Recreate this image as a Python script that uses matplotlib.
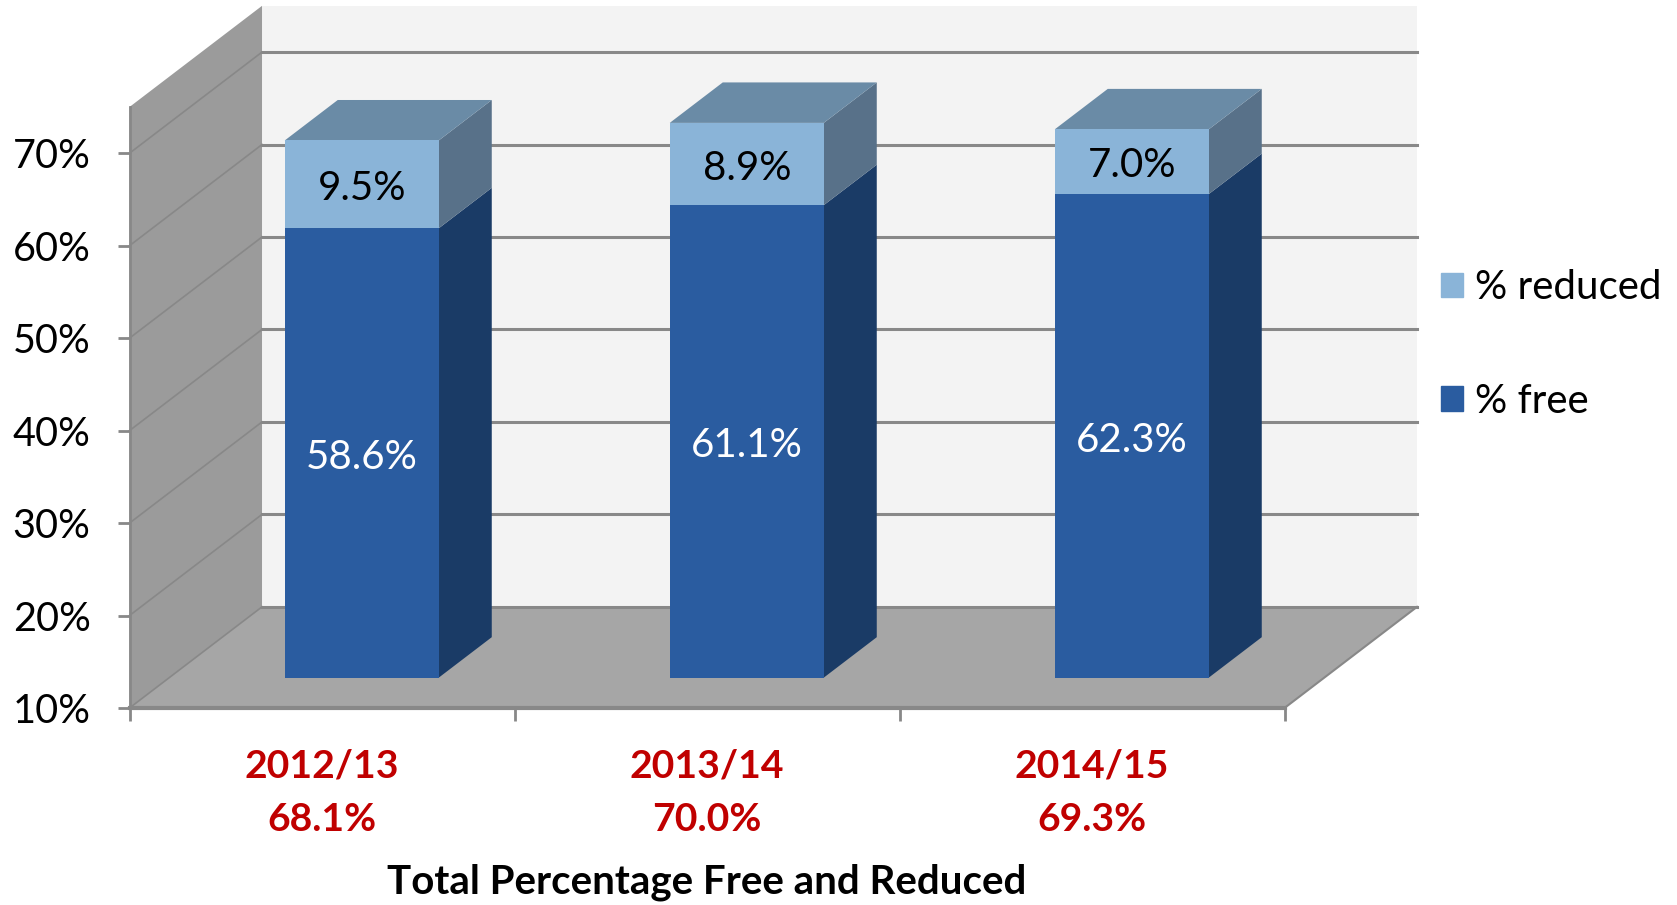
import matplotlib
matplotlib.use('Agg')
import matplotlib.pyplot as plt
from matplotlib.patches import Patch

plt.rcParams['font.family'] = ['Lato', 'DejaVu Sans']

years = ['2012/13', '2013/14', '2014/15']
totals = ['68.1%', '70.0%', '69.3%']
pct_free = [58.6, 61.1, 62.3]
pct_reduced = [9.5, 8.9, 7.0]
y_ticks = [10, 20, 30, 40, 50, 60, 70]

Y_MIN = 10
Y_MAX = 75

# depth vector of the fake 3d box, in data units
DEPTH_X = 0.3442
DEPTH_Y = 10.94
BAR_W = 0.40
BAR_FRONT = 0.30
BAR_BACK = 0.70
LABEL_SHIFT = 0.45

WALL = '#f3f3f3'
SIDE_WALL = '#9b9b9b'
FLOOR = '#a6a6a6'
GRID = '#888888'


def project(x, y, d):
    return x + d * DEPTH_X, y + d * DEPTH_Y


def face(ax, corners, color, z):
    pts = [project(*c) for c in corners]
    ax.fill([p[0] for p in pts], [p[1] for p in pts], color=color, lw=0, zorder=z, clip_on=False)


def draw_segment(ax, x0, x1, y0, y1, front, side, top, z):
    face(ax, [(x1, y0, BAR_FRONT), (x1, y0, BAR_BACK), (x1, y1, BAR_BACK), (x1, y1, BAR_FRONT)], side, z)
    face(ax, [(x0, y0, BAR_FRONT), (x1, y0, BAR_FRONT), (x1, y1, BAR_FRONT), (x0, y1, BAR_FRONT)], front, z + 0.1)
    if top is not None:
        face(ax, [(x0, y1, BAR_FRONT), (x1, y1, BAR_FRONT), (x1, y1, BAR_BACK), (x0, y1, BAR_BACK)], top, z)


fig = plt.figure(figsize=(16.77, 9.05), dpi=100)
ax = fig.add_axes([129.5 / 1677, 1 - 708 / 905, 1155 / 1677, 601 / 905])
ax.patch.set_visible(False)
n = len(years)
ax.set_xlim(0, n)
ax.set_ylim(Y_MIN, Y_MAX)

# walls and floor
face(ax, [(0, Y_MIN, 1), (n, Y_MIN, 1), (n, Y_MAX, 1), (0, Y_MAX, 1)], WALL, 1)
face(ax, [(0, Y_MIN, 0), (0, Y_MIN, 1), (0, Y_MAX, 1), (0, Y_MAX, 0)], SIDE_WALL, 1)
face(ax, [(0, Y_MIN, 0), (n, Y_MIN, 0), (n, Y_MIN, 1), (0, Y_MIN, 1)], FLOOR, 1)

for t in y_ticks:
    p0 = project(0, t, 0)
    p1 = project(0, t, 1)
    p2 = project(n, t, 1)
    ax.plot([p0[0], p1[0]], [p0[1], p1[1]], color=GRID, lw=1.2, zorder=2, clip_on=False)
    ax.plot([p1[0], p2[0]], [p1[1], p2[1]], color=GRID, lw=2.2, zorder=2, clip_on=False)
p0 = project(n, Y_MIN, 0)
p1 = project(n, Y_MIN, 1)
ax.plot([p0[0], p1[0]], [p0[1], p1[1]], color=GRID, lw=1.5, zorder=2, clip_on=False)

# bars
for i in range(n):
    x0 = i + 0.5 - BAR_W / 2
    x1 = i + 0.5 + BAR_W / 2
    free_top = pct_free[i]
    total_top = free_top + pct_reduced[i]
    draw_segment(ax, x0, x1, Y_MIN, free_top, '#2a5ca0', '#1a3b66', None, 3)
    draw_segment(ax, x0, x1, free_top, total_top, '#8ab4d8', '#587189', '#6a8ba6', 3)
    lx, ly = project(i + 0.5, (Y_MIN + free_top) / 2 - LABEL_SHIFT, BAR_FRONT)
    ax.text(lx, ly, f'{pct_free[i]:.1f}%', color='white', fontsize=29, ha='center', va='center', zorder=5)
    lx, ly = project(i + 0.5, (free_top + total_top) / 2 - LABEL_SHIFT, BAR_FRONT)
    ax.text(lx, ly, f'{pct_reduced[i]:.1f}%', color='black', fontsize=29, ha='center', va='center', zorder=5)

# axes
ax.spines['top'].set_visible(False)
ax.spines['right'].set_visible(False)
ax.spines['left'].set_color(GRID)
ax.spines['left'].set_linewidth(2)
ax.spines['bottom'].set_color(GRID)
ax.spines['bottom'].set_linewidth(3)

ax.set_yticks(y_ticks)
ax.set_yticklabels([f'{t}%' for t in y_ticks])
ax.tick_params(axis='y', length=9, width=2, color=GRID, labelsize=28.5, pad=19)

ax.set_xticks(range(n + 1))
ax.set_xticklabels([])
ax.set_xticks([i + 0.5 for i in range(n)], minor=True)
ax.set_xticklabels([f'{y}\n{t}' for y, t in zip(years, totals)], minor=True,
                   fontsize=28.2, fontweight='bold', color='#c00000', linespacing=1.65)
ax.tick_params(axis='x', which='major', length=9, width=2, color=GRID)
ax.tick_params(axis='x', which='minor', length=0, pad=29)

ax.set_xlabel('Total Percentage Free and Reduced', fontsize=29, fontweight='bold', labelpad=19)

handles = [Patch(color='#8ab4d8', label='% reduced'), Patch(color='#2a5ca0', label='% free')]
ax.legend(handles=handles, loc='center left', bbox_to_anchor=(1311 / 1155, 0.605), frameon=False,
          fontsize=29, handlelength=0.57, handleheight=0.57, handletextpad=0.28, labelspacing=1.9,
          borderpad=0, borderaxespad=0)

fig.savefig('out.png', dpi=100)
